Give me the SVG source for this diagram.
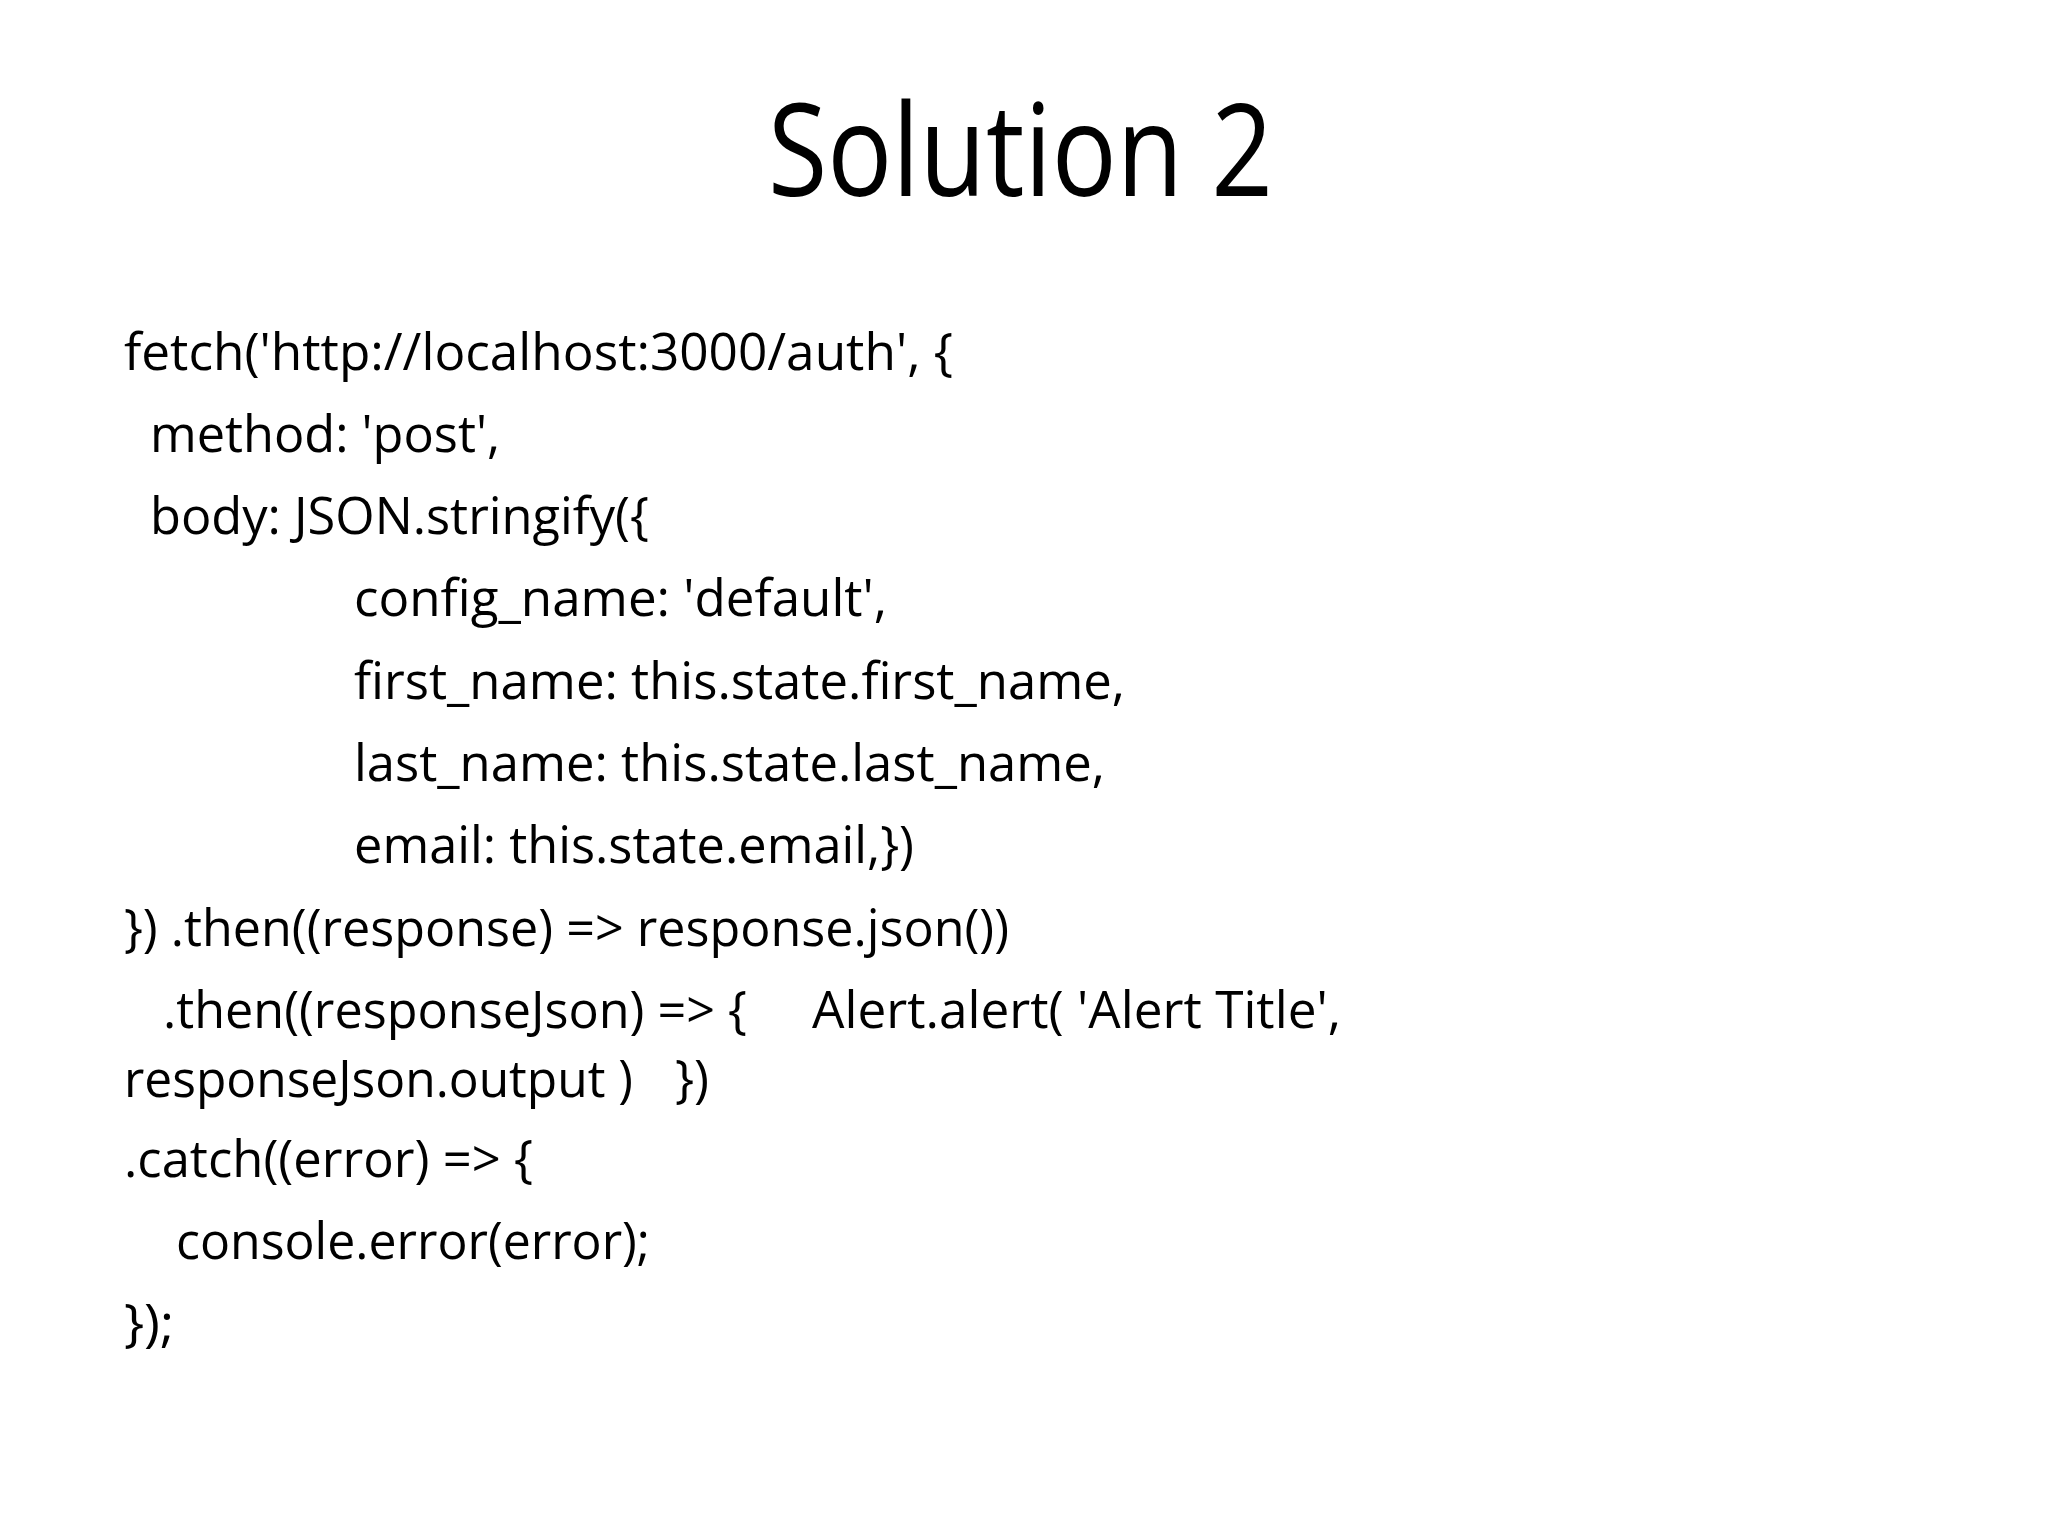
<svg xmlns="http://www.w3.org/2000/svg" width="2048" height="1536" viewBox="0 0 2048 1536">
<style>
.t{font-family:"Open Sans","Liberation Sans",sans-serif;fill:#000}
.b{font-size:52px}
</style>
<rect width="2048" height="1536" fill="#fff"/>
<g id="title"><text class="t" x="768" y="196" font-size="128" textLength="505" lengthAdjust="spacingAndGlyphs">Solution 2</text></g>
<g id="code" class="t b">
<text x="124" y="370" textLength="829" lengthAdjust="spacingAndGlyphs">fetch('http://localhost:3000/auth', {</text>
<text x="150" y="452" textLength="350" lengthAdjust="spacingAndGlyphs">method: 'post',</text>
<text x="150" y="534" textLength="499" lengthAdjust="spacingAndGlyphs">body: JSON.stringify({</text>
<text x="354" y="616" textLength="533" lengthAdjust="spacingAndGlyphs">config_name: 'default',</text>
<text x="354" y="699" textLength="771" lengthAdjust="spacingAndGlyphs">first_name: this.state.first_name,</text>
<text x="354" y="781" textLength="751" lengthAdjust="spacingAndGlyphs">last_name: this.state.last_name,</text>
<text x="354" y="863" textLength="560" lengthAdjust="spacingAndGlyphs">email: this.state.email,})</text>
<text x="124" y="946" textLength="885" lengthAdjust="spacingAndGlyphs">}) .then((response) =&gt; response.json())</text>
<text x="163" y="1028" textLength="584" lengthAdjust="spacingAndGlyphs">.then((responseJson) =&gt; {</text>
<text x="812" y="1028" textLength="529" lengthAdjust="spacingAndGlyphs">Alert.alert( 'Alert Title',</text>
<text x="124" y="1097" textLength="509" lengthAdjust="spacingAndGlyphs">responseJson.output )</text>
<text x="675" y="1097" textLength="34" lengthAdjust="spacingAndGlyphs">})</text>
<text x="124" y="1177" textLength="409" lengthAdjust="spacingAndGlyphs">.catch((error) =&gt; {</text>
<text x="176" y="1259" textLength="474" lengthAdjust="spacingAndGlyphs">console.error(error);</text>
<text x="124" y="1341" textLength="50" lengthAdjust="spacingAndGlyphs">});</text>
</g>
</svg>
